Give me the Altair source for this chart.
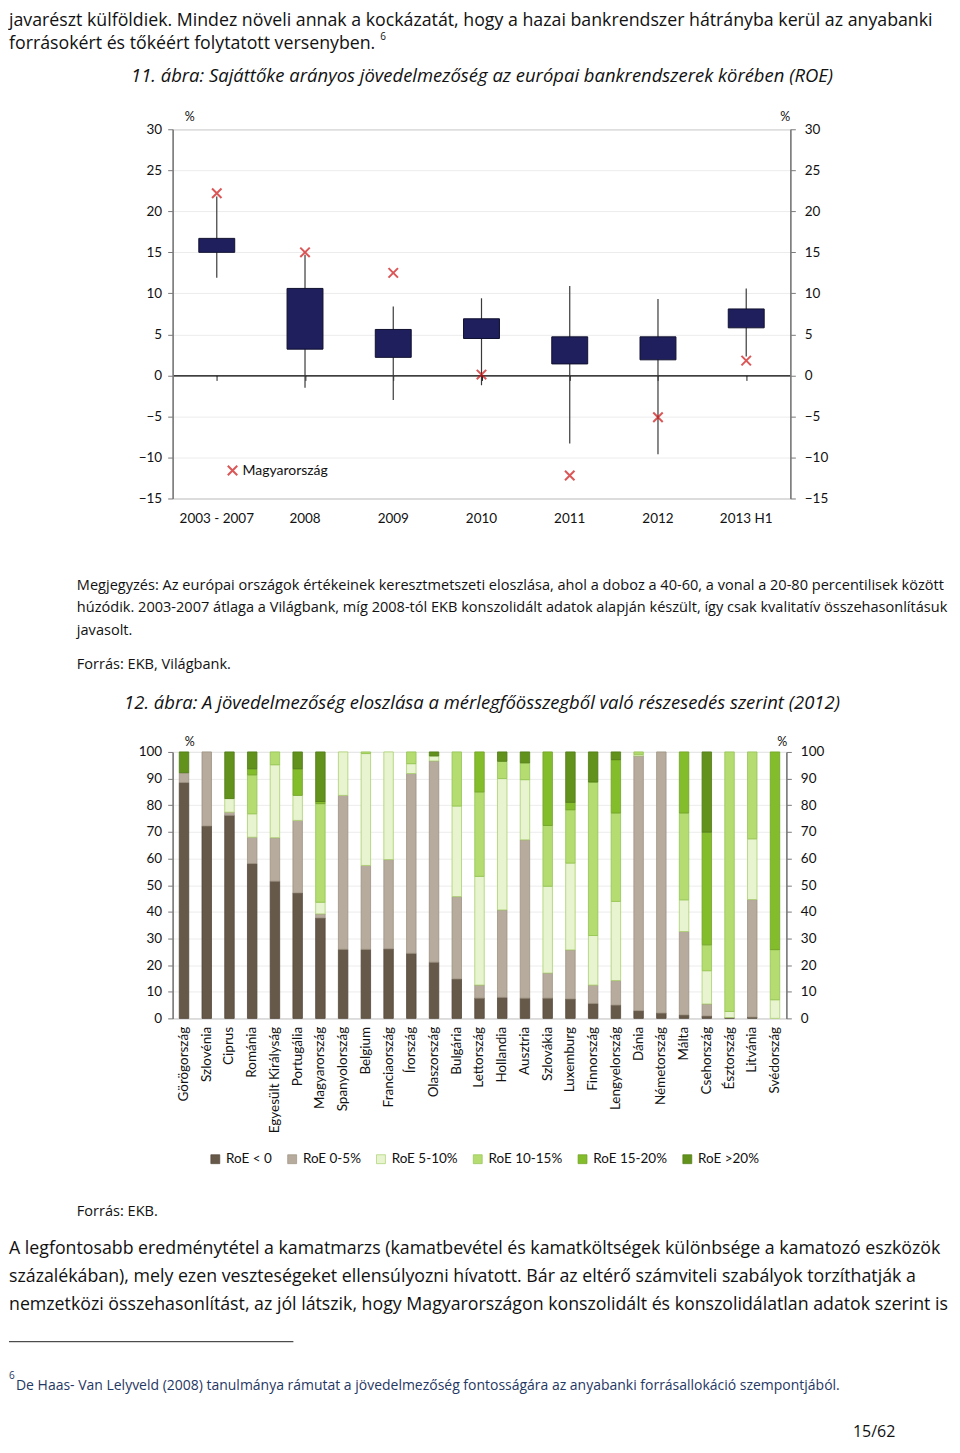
import altair as alt
import pandas as pd

# ---------------- text content ----------------
top_lines = [
    "javarészt külföldiek. Mindez növeli annak a kockázatát, hogy a hazai bankrendszer hátrányba kerül az anyabanki",
    "forrásokért és tőkéért folytatott versenyben.",
]
footnote_ref = "6"
title1 = "11. ábra: Sajáttőke arányos jövedelmezőség az európai bankrendszerek körében (ROE)"
note_lines = [
    "Megjegyzés: Az európai országok értékeinek keresztmetszeti eloszlása, ahol a doboz a 40-60, a vonal a 20-80 percentilisek között",
    "húzódik. 2003-2007 átlaga a Világbank, míg 2008-tól EKB konszolidált adatok alapján készült, így csak kvalitatív összehasonlításuk",
    "javasolt.",
]
source1 = "Forrás: EKB, Világbank."
title2 = "12. ábra: A jövedelmezőség eloszlása a mérlegfőösszegből való részesedés szerint (2012)"
source2 = "Forrás: EKB."
bottom_lines = [
    "A legfontosabb eredménytétel a kamatmarzs (kamatbevétel és kamatköltségek különbsége a kamatozó eszközök",
    "százalékában), mely ezen veszteségeket ellensúlyozni hívatott. Bár az eltérő számviteli szabályok torzíthatják a",
    "nemzetközi összehasonlítást, az jól látszik, hogy Magyarországon konszolidált és konszolidálatlan adatok szerint is",
]
footnote = "De Haas- Van Lelyveld (2008) tanulmánya rámutat a jövedelmezőség fontosságára az anyabanki forrásallokáció szempontjából."
page_no = "15/62"

# ---------------- chart 1 data ----------------
periods = ["2003 - 2007", "2008", "2009", "2010", "2011", "2012", "2013 H1"]
p20 = [11.9, -1.5, -3.0, -1.2, -8.3, -9.6, 2.3]
p40 = [15.0, 3.2, 2.2, 4.5, 1.4, 1.9, 5.8]
p60 = [16.7, 10.6, 5.6, 6.9, 4.7, 4.7, 8.1]
p80 = [21.8, 14.7, 8.4, 9.4, 10.9, 9.3, 10.6]
hungary = [22.2, 15.0, 12.5, 0.1, -12.2, -5.1, 1.8]
hu_label = "Magyarország"
y1_ticks = [-15, -10, -5, 0, 5, 10, 15, 20, 25, 30]

# ---------------- chart 2 data ----------------
countries = ["Görögország", "Szlovénia", "Ciprus", "Románia", "Egyesült Királyság", "Portugália",
             "Magyarország", "Spanyolország", "Belgium", "Franciaország", "Írország", "Olaszország",
             "Bulgária", "Lettország", "Hollandia", "Ausztria", "Szlovákia", "Luxemburg", "Finnország",
             "Lengyelország", "Dánia", "Németország", "Málta", "Csehország", "Észtország", "Litvánia",
             "Svédország"]
roe_cats = ["RoE < 0", "RoE 0-5%", "RoE 5-10%", "RoE 10-15%", "RoE 15-20%", "RoE >20%"]
roe_neg = [88.5, 72.2, 76.2, 58.1, 51.5, 47.1, 37.7, 25.9, 25.9, 26.1, 24.4, 21.1, 14.8, 7.6, 7.9, 7.6, 7.6, 7.3, 5.6, 5.0, 2.9, 2.0, 1.3, 0.9, 0.3, 0.5, 0.0]
roe_0_5 = [3.7, 27.8, 1.2, 9.9, 16.3, 27.2, 1.5, 57.8, 31.5, 33.5, 67.5, 75.5, 30.9, 4.9, 32.8, 59.4, 9.4, 18.4, 6.9, 9.2, 95.6, 98.0, 31.3, 4.5, 0.0, 44.1, 0.0]
roe_5_10 = [0, 0, 5.1, 8.8, 27.4, 9.4, 4.4, 16.3, 42.0, 40.4, 3.7, 1.9, 34.0, 40.8, 49.3, 22.6, 32.6, 32.6, 18.6, 29.7, 0.6, 0, 11.9, 12.5, 2.3, 22.8, 7.0]
roe_10_15 = [0, 0, 0, 14.6, 4.8, 0, 37.0, 0, 0.6, 0, 4.4, 0, 20.3, 31.7, 6.5, 6.3, 22.8, 20.0, 57.6, 33.2, 0.9, 0, 32.6, 9.7, 97.4, 32.6, 18.8]
roe_15_20 = [0, 0, 0, 2.3, 0, 10.0, 0.8, 0, 0, 0, 0, 0, 0, 15.0, 0, 0, 27.6, 2.8, 0, 20.0, 0, 0, 22.9, 42.3, 0, 0, 74.2]
roe_20 = [7.8, 0, 17.5, 6.3, 0, 6.3, 18.6, 0, 0, 0, 0, 1.5, 0, 0, 3.5, 4.1, 0, 18.9, 11.3, 2.9, 0, 0, 0, 30.1, 0, 0, 0]
y2_ticks = [0, 10, 20, 30, 40, 50, 60, 70, 80, 90, 100]

# ---------------- styles ----------------
FONT = "Lato"
BODY = "Open Sans"
fill_cols = ["#675949", "#b6ab9c", "#e8f3d0", "#b5dc70", "#84bd2c", "#62921c"]
stroke_cols = ["#54483a", "#9d9282", "#a9d06c", "#93c452", "#6ea222", "#4f7a14"]
BOX = "#1f1f5e"
RED = "#cc1111"

W1, H1 = 619, 370
W2, H2 = 615, 267
BODY_SIZE = 17.8
NOTE_SIZE = 14.6
TOP_A = -119

# ---------------- helper for free text ----------------
def txt(s, x, y, size=17, italic=False, align="left", color="#111", font=BODY, baseline="alphabetic"):
    return alt.Chart(pd.DataFrame({"t": [s]})).mark_text(
        align=align, baseline=baseline, fontSize=size, font=font,
        fontStyle="italic" if italic else "normal", color=color,
    ).encode(text="t:N", x=alt.value(x), y=alt.value(y))

def anchor(x1, x2, y1, y2):
    return alt.Chart(pd.DataFrame({"a": [0]})).mark_rect(opacity=0).encode(
        x=alt.value(x1), x2=alt.value(x2), y=alt.value(y1), y2=alt.value(y2))

# ================= Panel A : chart 1 =================
df1 = pd.DataFrame({"period": periods, "p20": p20, "p40": p40, "p60": p60, "p80": p80,
                    "hu": hungary, "lab": [hu_label] * len(periods)})

xs1 = alt.Scale(domain=periods, paddingInner=0, paddingOuter=0)
ys1 = alt.Scale(domain=[-15, 30], nice=False, zero=False)

left_axis = alt.Axis(values=y1_ticks, grid=True, gridColor="#ececec", gridWidth=1,
                     tickSize=5, tickColor="#7a7a7a", domain=True, domainColor="#7a7a7a",
                     domainWidth=1.5, labelPadding=6, labelFontSize=13.5, labelColor="#111",
                     title=None, orient="left")
x_axis1 = alt.Axis(labelAngle=0, ticks=False, domain=False, labelPadding=13,
                   labelFontSize=13.5, labelColor="#111", title=None, orient="bottom")

whisk = alt.Chart(df1).mark_rule(color="#3a3a3a", strokeWidth=1.2).encode(
    x=alt.X("period:N", scale=xs1, sort=periods, axis=x_axis1),
    y=alt.Y("p20:Q", scale=ys1, axis=left_axis),
    y2="p80:Q",
)
boxes = alt.Chart(df1).mark_bar(size=36, color=BOX, stroke="#10102e", strokeWidth=1).encode(
    x=alt.X("period:N", scale=xs1, sort=periods),
    y=alt.Y("p40:Q", scale=ys1),
    y2="p60:Q",
)
pts = alt.Chart(df1).mark_point(shape="M-1,-1L1,1M-1,1L1,-1", filled=False, size=90,
                                strokeWidth=2).encode(
    x=alt.X("period:N", scale=xs1, sort=periods),
    y=alt.Y("hu:Q", scale=ys1),
    color=alt.Color("lab:N", scale=alt.Scale(domain=[hu_label], range=[RED]),
                    legend=alt.Legend(orient="none", legendX=53, legendY=335, title=None,
                                      symbolType="M-1,-1L1,1M-1,1L1,-1", symbolSize=90,
                                      symbolStrokeWidth=2, labelFontSize=14, labelColor="#111",
                                      labelFont=FONT, labelOffset=3,
                                      symbolFillColor="transparent")),
)
inner1 = alt.layer(whisk, boxes, pts)

right1 = alt.Chart(df1).mark_rule(opacity=0).encode(
    y=alt.Y("p40:Q", scale=ys1,
            axis=alt.Axis(values=y1_ticks, orient="right", grid=False, tickSize=5,
                          tickColor="#7a7a7a", domain=True, domainColor="#7a7a7a",
                          domainWidth=1.5, labelPadding=9, labelFontSize=13.5,
                          labelColor="#111", title=None)))

zero1 = alt.Chart(df1).mark_point(opacity=0).encode(
    x=alt.X("period:N", sort=periods, scale=alt.Scale(domain=periods, paddingInner=0, paddingOuter=0),
            axis=alt.Axis(orient="bottom", offset=-(15 / 45 * H1), bandPosition=0, labels=False,
                          ticks=True, tickSize=5, tickColor="#222", domain=True,
                          domainColor="#000", domainWidth=1.3, grid=False, title=None)),
    y=alt.value(0),
)

texts_a = [
    txt(top_lines[0], -164, TOP_A + 2, size=BODY_SIZE, baseline="top"),
    txt(top_lines[1], -164, -80, size=BODY_SIZE),
    txt(footnote_ref, 208, -89, size=10),
    txt(title1, 310, -47, size=18.5, italic=True, align="center"),
    txt("%", 12, -8, size=12.5, font=FONT),
    txt("%", 609, -8, size=12.5, font=FONT),
    txt(note_lines[0], -96, 462, size=NOTE_SIZE),
    txt(note_lines[1], -96, 484, size=NOTE_SIZE),
    txt(note_lines[2], -96, 507, size=NOTE_SIZE),
    txt(source1, -96, 541, size=NOTE_SIZE),
]

panelA = alt.layer(anchor(-164, 780, TOP_A, 551), inner1, right1, zero1, *texts_a).resolve_scale(
    x="independent", y="independent").properties(width=W1, height=H1)

# ================= Panel B : chart 2 =================
rows = []
series = [roe_neg, roe_0_5, roe_5_10, roe_10_15, roe_15_20, roe_20]
for ci, c in enumerate(countries):
    for k, (cat, vals) in enumerate(zip(roe_cats, series)):
        if vals[ci] > 0:
            rows.append({"country": c, "cat": cat, "k": k, "v": vals[ci]})
df2 = pd.DataFrame(rows)

xs2 = alt.Scale(domain=countries, paddingInner=0, paddingOuter=0)
ys2 = alt.Scale(domain=[0, 100], nice=False)

bars = alt.Chart(df2).mark_bar(size=9.5, strokeWidth=0.8).encode(
    x=alt.X("country:N", sort=countries, scale=xs2,
            axis=alt.Axis(labelAngle=-90, labelAlign="right", labelBaseline="middle",
                          ticks=False, domain=False, labelPadding=8, labelFontSize=13.5,
                          labelColor="#111", title=None, labelLimit=200)),
    y=alt.Y("v:Q", stack="zero", scale=ys2,
            axis=alt.Axis(values=y2_ticks, grid=True, gridColor="#ececec", tickSize=5,
                          tickColor="#7a7a7a", domain=True, domainColor="#7a7a7a",
                          domainWidth=1.5, labelPadding=6, labelFontSize=13.5,
                          labelColor="#111", title=None)),
    order=alt.Order("k:Q", sort="ascending"),
    color=alt.Color("cat:N", scale=alt.Scale(domain=roe_cats, range=fill_cols),
                    legend=alt.Legend(orient="none", legendX=36, legendY=401, direction="horizontal",
                                      title=None, symbolType="square", symbolSize=80,
                                      labelFontSize=13.5, labelColor="#111", labelFont=FONT,
                                      labelOffset=4, columnPadding=13,
                                      symbolStrokeWidth=0.7, symbolStrokeColor="#a3c77a")),
    stroke=alt.Stroke("cat:N", scale=alt.Scale(domain=roe_cats, range=stroke_cols), legend=None),
)
right2 = alt.Chart(df2).mark_rule(opacity=0).encode(
    y=alt.Y("v:Q", scale=ys2,
            axis=alt.Axis(values=y2_ticks, orient="right", grid=False, tickSize=5,
                          tickColor="#7a7a7a", domain=True, domainColor="#7a7a7a",
                          domainWidth=1.5, labelPadding=9, labelFontSize=13.5,
                          labelColor="#111", title=None)))

sep = alt.Chart(pd.DataFrame({"a": [0]})).mark_rule(color="#222", strokeWidth=1).encode(
    x=alt.value(-164), x2=alt.value(121), y=alt.value(591))

texts_b = [
    txt(title2, 310, -43, size=18.5, italic=True, align="center"),
    txt("%", 12, -6, size=12.5, font=FONT),
    txt("%", 606, -6, size=12.5, font=FONT),
    txt(source2, -96, 465, size=NOTE_SIZE),
    txt(bottom_lines[0], -164, 503, size=BODY_SIZE),
    txt(bottom_lines[1], -164, 531, size=BODY_SIZE),
    txt(bottom_lines[2], -164, 559, size=BODY_SIZE),
    txt(footnote_ref, -164, 628, size=10, color="#1f3864"),
    txt(footnote, -157, 639, size=14, color="#1f3864"),
    txt(page_no, 703, 687, size=16, align="center"),
]

panelB = alt.layer(anchor(-164, 780, -71, 690), bars, right2, sep, *texts_b).resolve_scale(
    y="independent").properties(width=W2, height=H2)

chart = alt.vconcat(panelA, panelB, spacing=0).properties(padding=0).resolve_scale(
    color="independent", stroke="independent"
).resolve_legend(color="independent", stroke="independent").configure_view(
    stroke="#9a9a9a", strokeWidth=1
).configure_axis(labelFont=FONT).configure_legend(labelFont=FONT)

chart.save("out.html", embed_options={"renderer": "svg", "actions": False})
